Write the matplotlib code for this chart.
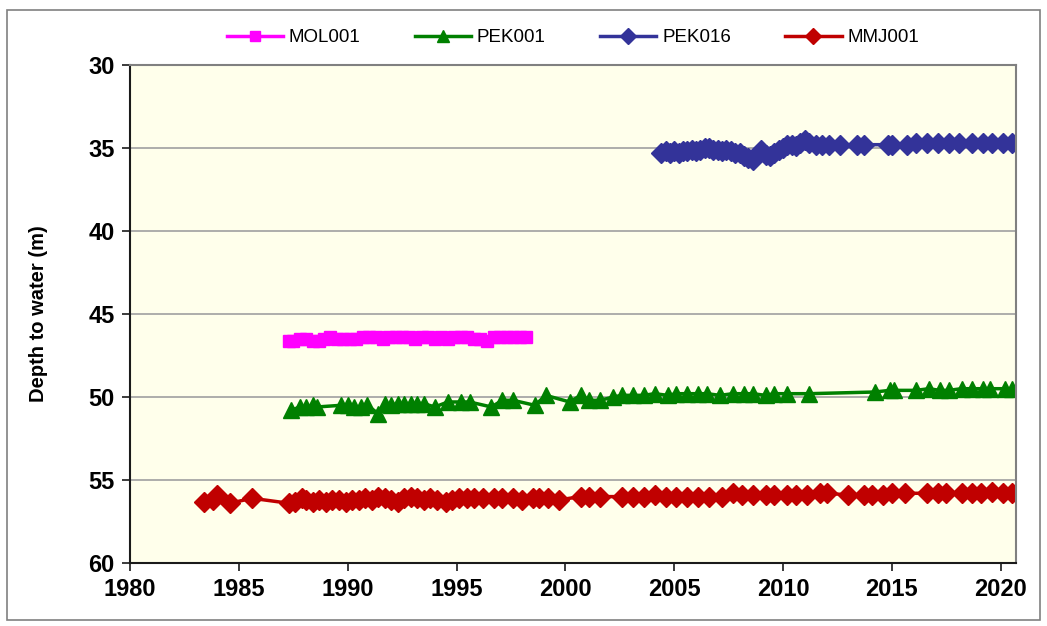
import matplotlib
matplotlib.use("Agg")
import matplotlib.pyplot as plt
from matplotlib.patches import Rectangle

mol_x = [1987.3, 1987.5, 1987.8, 1988.1, 1988.4, 1988.7, 1988.9, 1989.2, 1989.5, 1989.8,
         1990.1, 1990.4, 1990.7, 1991.0, 1991.3, 1991.6, 1991.9, 1992.2, 1992.5, 1992.8,
         1993.1, 1993.4, 1993.7, 1994.0, 1994.3, 1994.6, 1994.9, 1995.2, 1995.5, 1995.8,
         1996.1, 1996.4, 1996.7, 1997.0, 1997.3, 1997.6, 1997.9, 1998.2]
mol_y = [46.6, 46.6, 46.5, 46.5, 46.6, 46.6, 46.5, 46.4, 46.5, 46.5,
         46.5, 46.5, 46.4, 46.4, 46.4, 46.5, 46.4, 46.4, 46.4, 46.4,
         46.5, 46.4, 46.4, 46.5, 46.4, 46.5, 46.4, 46.4, 46.4, 46.5,
         46.5, 46.6, 46.4, 46.4, 46.4, 46.4, 46.4, 46.4]

pek001_x = [1987.4, 1987.8, 1988.1, 1988.4, 1988.6, 1989.7, 1990.0, 1990.3, 1990.6, 1990.9,
            1991.4, 1991.7, 1992.0, 1992.3, 1992.6, 1992.9, 1993.2, 1993.5, 1994.0, 1994.6,
            1995.2, 1995.6, 1996.6, 1997.1, 1997.6, 1998.6, 1999.1, 2000.2, 2000.7, 2001.1,
            2001.6, 2002.2, 2002.6, 2003.1, 2003.6, 2004.1, 2004.7, 2005.1, 2005.6, 2006.1,
            2006.5, 2007.1, 2007.7, 2008.2, 2008.6, 2009.2, 2009.6, 2010.2, 2011.2, 2014.2,
            2014.9, 2015.1, 2016.1, 2016.7, 2017.2, 2017.6, 2018.2, 2018.7, 2019.2, 2019.5,
            2020.2, 2020.5]
pek001_y = [50.8, 50.6, 50.6, 50.5, 50.6, 50.5, 50.5, 50.6, 50.6, 50.5,
            51.0, 50.4, 50.5, 50.4, 50.4, 50.4, 50.4, 50.4, 50.6, 50.3,
            50.3, 50.3, 50.6, 50.2, 50.2, 50.5, 49.9, 50.3, 49.9, 50.2,
            50.2, 50.0, 49.9, 49.9, 49.9, 49.8, 49.9, 49.8, 49.8, 49.8,
            49.8, 49.9, 49.8, 49.8, 49.8, 49.9, 49.8, 49.8, 49.8, 49.7,
            49.6, 49.6, 49.6, 49.5, 49.6, 49.6, 49.5, 49.5, 49.5, 49.5,
            49.5, 49.5]

pek016_x = [2004.4, 2004.6, 2004.8, 2005.0, 2005.2, 2005.4, 2005.6, 2005.8, 2006.0, 2006.2,
            2006.4, 2006.6, 2006.8, 2007.0, 2007.2, 2007.4, 2007.6, 2007.8, 2008.0, 2008.2,
            2008.4, 2008.6, 2008.8, 2009.0, 2009.2, 2009.4, 2009.6, 2009.8, 2010.0, 2010.2,
            2010.4, 2010.6, 2010.8, 2011.0, 2011.2, 2011.5, 2011.8, 2012.1, 2012.6, 2013.4,
            2013.7, 2014.8, 2015.0, 2015.7, 2016.1, 2016.6, 2017.1, 2017.6, 2018.1, 2018.7,
            2019.2, 2019.6, 2020.1, 2020.5]
pek016_y = [35.3, 35.2, 35.3, 35.2, 35.3, 35.2, 35.2, 35.1, 35.2, 35.1,
            35.0, 35.0, 35.1, 35.1, 35.2, 35.1, 35.2, 35.3, 35.3, 35.5,
            35.6, 35.7, 35.4, 35.1, 35.4, 35.5, 35.3, 35.1, 35.0, 34.8,
            34.8, 34.9, 34.7, 34.5, 34.7, 34.8, 34.8, 34.8, 34.8, 34.8,
            34.8, 34.8, 34.8, 34.8, 34.7, 34.7, 34.7, 34.7, 34.7, 34.7,
            34.7, 34.7, 34.7, 34.7]

mmj_x = [1983.4, 1983.8, 1984.0, 1984.6, 1985.6, 1987.3, 1987.6, 1987.9, 1988.1, 1988.4,
         1988.7, 1989.0, 1989.3, 1989.6, 1989.9, 1990.2, 1990.5, 1990.8, 1991.1, 1991.4,
         1991.7, 1992.0, 1992.3, 1992.6, 1992.9, 1993.2, 1993.5, 1993.8, 1994.1, 1994.5,
         1994.8, 1995.1, 1995.5, 1995.8, 1996.2, 1996.7, 1997.1, 1997.6, 1998.0, 1998.5,
         1998.8, 1999.2, 1999.7, 2000.7, 2001.1, 2001.6, 2002.6, 2003.1, 2003.6, 2004.1,
         2004.6, 2005.1, 2005.6, 2006.1, 2006.6, 2007.2, 2007.7, 2008.1, 2008.6, 2009.2,
         2009.6, 2010.2, 2010.6, 2011.1, 2011.7, 2012.0, 2013.0, 2013.7, 2014.1, 2014.6,
         2015.0, 2015.6, 2016.6, 2017.1, 2017.5, 2018.2, 2018.7, 2019.1, 2019.6, 2020.1,
         2020.5]
mmj_y = [56.3, 56.2, 55.9, 56.4, 56.1, 56.4, 56.3, 56.1, 56.2, 56.3,
         56.2, 56.3, 56.2, 56.2, 56.3, 56.2, 56.2, 56.1, 56.2, 56.0,
         56.1, 56.2, 56.3, 56.1, 56.0, 56.1, 56.2, 56.1, 56.2, 56.3,
         56.2, 56.1, 56.1, 56.1, 56.1, 56.1, 56.1, 56.1, 56.2, 56.1,
         56.1, 56.1, 56.2, 56.0, 56.0, 56.0, 56.0, 56.0, 56.0, 55.9,
         56.0, 56.0, 56.0, 56.0, 56.0, 56.0, 55.8, 55.9, 55.9, 55.9,
         55.9, 55.9, 55.9, 55.9, 55.8, 55.8, 55.9, 55.9, 55.9, 55.9,
         55.8, 55.8, 55.8, 55.8, 55.8, 55.8, 55.8, 55.8, 55.7, 55.8,
         55.8]

x_ticks = [1980, 1985, 1990, 1995, 2000, 2005, 2010, 2015, 2020]
y_ticks = [30, 35, 40, 45, 50, 55, 60]

plt.rcParams['font.family'] = ['Liberation Sans', 'DejaVu Sans']

fig = plt.figure(figsize=(10.47, 6.26), dpi=100)
fig.patches.append(Rectangle((7/1047, 1 - 620/626), 1033/1047, 610/626,
                             transform=fig.transFigure, fill=False,
                             edgecolor='#808080', linewidth=1.2))
ax = fig.add_axes([130/1047, 1 - 563/626, 886/1047, 498/626])
ax.set_facecolor('#FFFFEB')

ax.plot(mol_x, mol_y, color='#FF00FF', lw=2.5, marker='s', ms=9, label='MOL001')
ax.plot(pek001_x, pek001_y, color='#008000', lw=2.5, marker='^', ms=11, label='PEK001')
ax.plot(pek016_x, pek016_y, color='#333399', lw=2.5, marker='D', ms=10, label='PEK016')
ax.plot(mmj_x, mmj_y, color='#C00000', lw=2.5, marker='D', ms=10, label='MMJ001')

ax.set_xlim(1980, 2020.7)
ax.set_ylim(60, 30)
ax.set_xticks(x_ticks)
ax.set_yticks(y_ticks)
ax.grid(axis='y', color='#A0A0A0', lw=1.2)
ax.set_axisbelow(True)
for side in ['top', 'right']:
    ax.spines[side].set_color('#808080')
    ax.spines[side].set_linewidth(1.5)
for side in ['left', 'bottom']:
    ax.spines[side].set_color('#1a1a1a')
    ax.spines[side].set_linewidth(1.5)
ax.tick_params(direction='out', length=6, width=1.2, color='#1a1a1a', labelsize=17, pad=5)
for lab in ax.get_xticklabels() + ax.get_yticklabels():
    lab.set_fontweight('bold')
ax.set_ylabel('Depth to water (m)', fontsize=14.5, fontweight='bold')
ax.yaxis.set_label_coords(-0.092, 0.5)

leg = ax.legend(loc='lower center', bbox_to_anchor=(0.5, 1.0), ncol=4, frameon=False,
                prop={'size': 13.5}, handlelength=3.0, markerscale=0.8,
                columnspacing=2.9, handletextpad=0.3, borderaxespad=0.6)

fig.savefig('out.png', dpi=100)
